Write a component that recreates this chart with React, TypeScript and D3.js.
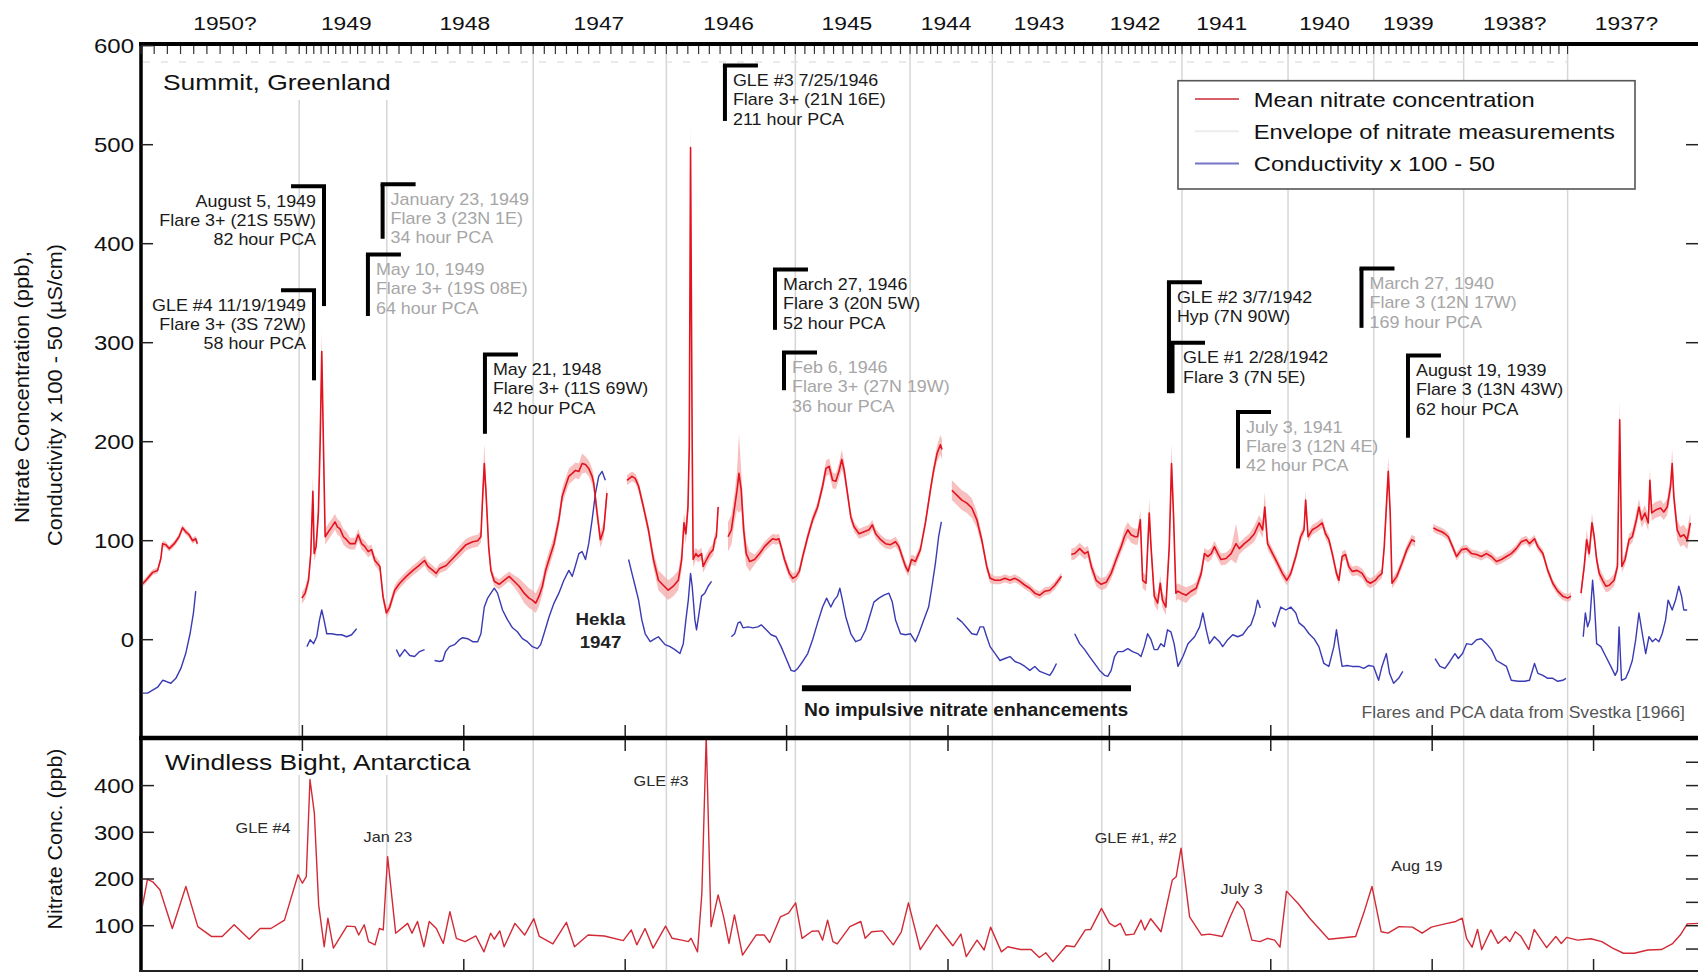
import React from "react";
import * as d3 from "d3";

const W = 1698;
const H = 972;
const FONT = "'Liberation Sans', Arial, Helvetica, sans-serif";

// Depth along the core (m) of each annual-layer boundary, from the top of the record.
const yearBoundaries = [0, 0.98, 1.523, 2.43, 3.255, 4.054, 4.765, 5.275, 5.953, 6.45, 7.107, 7.638, 8.195, 8.839];
const yearLabels = ["1950?", "1949", "1948", "1947", "1946", "1945", "1944", "1943", "1942", "1941", "1940", "1939", "1938?", "1937?"];
const yearLabelDepths = [0.52, 1.272, 2.006, 2.837, 3.641, 4.374, 4.988, 5.565, 6.16, 6.696, 7.333, 7.853, 8.511, 9.204];

// Summit nitrate: [depth m, mean ppb, half-width of measurement envelope]
const nitrate1950: [number, number, number][] = [
  [0, 55, 3], [0.031, 60, 3], [0.072, 68, 3], [0.103, 70, 3], [0.123, 82, 3], [0.134, 97, 3], [0.154, 96, 3],
  [0.175, 92, 3], [0.206, 97, 3], [0.236, 104, 3], [0.257, 113, 3], [0.277, 109, 3], [0.298, 106, 3],
  [0.319, 100, 3], [0.339, 102, 3], [0.349, 97, 3],
];
const nitrate1949: [number, number, number][] = [
  [0.997, 42, 6], [1.017, 47, 6], [1.038, 60, 6], [1.052, 87, 8], [1.065, 150, 15], [1.073, 87, 8], [1.085, 94, 8],
  [1.099, 128, 10], [1.11, 200, 15], [1.12, 291, 20], [1.13, 200, 15], [1.141, 104, 8], [1.161, 109, 8],
  [1.182, 114, 8], [1.202, 119, 8], [1.217, 114, 8], [1.233, 112, 8], [1.254, 104, 8], [1.274, 101, 8],
  [1.295, 97, 6], [1.326, 97, 6], [1.346, 106, 6], [1.367, 97, 6], [1.387, 94, 6], [1.408, 89, 6], [1.428, 91, 5],
  [1.449, 80, 5], [1.48, 74, 5], [1.5, 43, 5], [1.521, 27, 5], [1.541, 33, 5], [1.572, 50, 5], [1.603, 57, 5],
  [1.644, 64, 5], [1.685, 70, 5], [1.716, 74, 5], [1.757, 80, 5], [1.778, 74, 5], [1.808, 70, 5], [1.829, 67, 5],
  [1.85, 72, 5], [1.891, 75, 5], [1.932, 82, 5], [1.973, 89, 6], [2.014, 96, 6], [2.055, 99, 6], [2.086, 100, 6],
  [2.106, 104, 6], [2.117, 145, 12], [2.127, 178, 20], [2.137, 151, 12], [2.154, 94, 6], [2.168, 70, 5],
  [2.189, 59, 5], [2.219, 56, 5], [2.25, 60, 5], [2.281, 64, 5], [2.312, 59, 6], [2.343, 54, 8], [2.374, 47, 10],
  [2.404, 42, 10], [2.425, 40, 10], [2.446, 37, 10], [2.466, 44, 10], [2.487, 54, 8], [2.507, 70, 8],
  [2.528, 81, 8], [2.559, 97, 8], [2.589, 121, 8], [2.61, 145, 8], [2.63, 155, 8], [2.651, 165, 8],
  [2.672, 168, 8], [2.692, 171, 8], [2.713, 170, 8], [2.733, 178, 10], [2.754, 177, 8], [2.774, 173, 8],
  [2.795, 165, 8], [2.805, 158, 8], [2.826, 128, 8], [2.846, 101, 8], [2.867, 111, 8], [2.887, 148, 8],
];
const nitrate1946: [number, number, number][] = [
  [3.011, 161, 5], [3.042, 165, 5], [3.062, 163, 5], [3.083, 155, 5], [3.113, 134, 5], [3.144, 111, 6],
  [3.175, 81, 8], [3.206, 60, 10], [3.236, 55, 10], [3.267, 50, 10], [3.298, 54, 10], [3.329, 60, 10],
  [3.35, 81, 10], [3.364, 118, 10], [3.376, 107, 10], [3.389, 134, 12], [3.397, 195, 20], [3.405, 497, 25],
  [3.415, 200, 20], [3.421, 81, 8], [3.438, 87, 6], [3.452, 84, 6], [3.473, 87, 6], [3.483, 74, 6],
  [3.504, 81, 6], [3.524, 87, 6], [3.545, 91, 6], [3.555, 101, 6], [3.565, 104, 6], [3.576, 134, 6],
];
const nitrate1945: [number, number, number][] = [
  [3.637, 104, 15], [3.658, 111, 15], [3.678, 134, 15], [3.693, 151, 20], [3.705, 168, 40], [3.719, 151, 20],
  [3.734, 111, 15], [3.75, 87, 12], [3.771, 79, 10], [3.802, 81, 5], [3.833, 87, 5], [3.863, 94, 5],
  [3.894, 99, 5], [3.915, 102, 5], [3.935, 101, 5], [3.952, 102, 5], [3.966, 94, 5], [3.987, 81, 5],
  [4.017, 67, 5], [4.038, 62, 5], [4.059, 64, 5], [4.079, 69, 5], [4.1, 84, 5], [4.131, 104, 5], [4.161, 121, 5],
  [4.192, 134, 5], [4.223, 155, 6], [4.244, 173, 8], [4.264, 175, 8], [4.285, 161, 8], [4.305, 160, 8],
  [4.326, 171, 8], [4.342, 182, 10], [4.357, 171, 8], [4.377, 148, 6], [4.398, 124, 5], [4.418, 114, 5],
  [4.449, 107, 5], [4.48, 109, 5], [4.511, 111, 5], [4.531, 116, 5], [4.552, 107, 5], [4.583, 101, 5],
  [4.613, 97, 5], [4.644, 96, 5], [4.675, 99, 5], [4.696, 94, 5], [4.716, 84, 5], [4.737, 74, 5],
  [4.753, 69, 5], [4.774, 81, 5], [4.798, 79, 5], [4.829, 91, 5], [4.86, 118, 5], [4.891, 151, 6],
  [4.911, 171, 6], [4.932, 188, 8], [4.953, 197, 10], [4.963, 192, 10],
];
const nitrate1943: [number, number, number][] = [
  [5.024, 151, 10], [5.055, 146, 10], [5.086, 141, 10], [5.117, 138, 10], [5.148, 133, 10], [5.179, 121, 8],
  [5.209, 101, 6], [5.24, 74, 5], [5.261, 62, 5], [5.292, 60, 4], [5.322, 60, 4], [5.353, 62, 4],
  [5.384, 60, 4], [5.415, 62, 4], [5.446, 59, 4], [5.477, 55, 4], [5.507, 52, 4], [5.538, 47, 4],
  [5.569, 45, 4], [5.6, 49, 4], [5.631, 50, 4], [5.662, 55, 4], [5.703, 64, 4],
];
const nitrate1942: [number, number, number][] = [
  [5.764, 86, 6], [5.785, 87, 6], [5.816, 92, 6], [5.847, 87, 6], [5.867, 89, 6], [5.888, 74, 6], [5.918, 60, 6],
  [5.949, 56, 6], [5.98, 58, 6], [6.011, 67, 6], [6.042, 81, 6], [6.073, 94, 6], [6.093, 104, 8], [6.114, 111, 8],
  [6.134, 106, 8], [6.159, 104, 8], [6.175, 104, 8], [6.192, 121, 10], [6.206, 60, 8], [6.227, 57, 8],
  [6.247, 128, 15], [6.258, 94, 10], [6.278, 44, 8], [6.299, 37, 8], [6.315, 57, 8], [6.329, 40, 8],
  [6.35, 33, 8], [6.371, 94, 10], [6.385, 178, 20], [6.397, 128, 10], [6.412, 47, 8], [6.425, 49, 8],
  [6.446, 47, 8], [6.476, 45, 8], [6.507, 49, 6], [6.538, 52, 6], [6.569, 67, 6], [6.589, 87, 6], [6.61, 84, 6],
  [6.631, 87, 6], [6.651, 94, 6], [6.672, 87, 6], [6.692, 81, 6], [6.723, 82, 6], [6.754, 87, 6],
  [6.785, 97, 20], [6.805, 92, 6], [6.836, 97, 6], [6.867, 101, 6], [6.898, 107, 8], [6.928, 118, 8],
  [6.949, 111, 8], [6.963, 134, 15], [6.98, 97, 6], [7.011, 87, 5], [7.042, 77, 5], [7.072, 67, 5],
  [7.099, 60, 5], [7.124, 67, 5], [7.155, 84, 5], [7.185, 104, 5], [7.206, 111, 5], [7.216, 141, 10],
  [7.231, 104, 5], [7.257, 111, 5], [7.288, 114, 5], [7.319, 118, 5], [7.339, 107, 5], [7.36, 101, 5],
  [7.381, 87, 5], [7.407, 67, 5], [7.422, 60, 5], [7.442, 84, 5], [7.463, 86, 5], [7.483, 74, 5],
  [7.504, 69, 5], [7.535, 70, 5], [7.566, 67, 5], [7.596, 59, 5], [7.617, 57, 5], [7.648, 60, 5],
  [7.668, 64, 5], [7.689, 67, 5], [7.703, 94, 8], [7.716, 134, 12], [7.728, 170, 15], [7.74, 128, 10],
  [7.751, 57, 5], [7.781, 64, 5], [7.812, 77, 5], [7.843, 91, 5], [7.874, 101, 5], [7.894, 99, 5],
];
const nitrate1938: [number, number, number][] = [
  [8.007, 113, 4], [8.028, 111, 4], [8.059, 109, 4], [8.079, 107, 4], [8.1, 104, 4], [8.131, 92, 4],
  [8.151, 84, 4], [8.182, 91, 4], [8.213, 92, 4], [8.244, 87, 4], [8.275, 86, 4], [8.305, 84, 4],
  [8.336, 87, 4], [8.367, 84, 4], [8.398, 79, 4], [8.429, 81, 4], [8.46, 84, 4], [8.49, 87, 4], [8.521, 92, 4],
  [8.552, 99, 4], [8.583, 101, 4], [8.603, 97, 4], [8.634, 102, 4], [8.655, 94, 4], [8.686, 87, 4],
  [8.716, 70, 4], [8.747, 57, 4], [8.778, 49, 4], [8.809, 44, 4], [8.84, 42, 4], [8.86, 44, 4],
];
const nitrate1937: [number, number, number][] = [
  [8.922, 47, 6], [8.942, 74, 6], [8.957, 101, 10], [8.973, 87, 6], [8.99, 118, 10], [9.004, 104, 6],
  [9.019, 81, 6], [9.035, 67, 6], [9.056, 60, 6], [9.076, 54, 6], [9.097, 55, 6], [9.127, 60, 6],
  [9.148, 74, 6], [9.162, 222, 20], [9.175, 74, 6], [9.195, 81, 6], [9.22, 101, 6], [9.24, 104, 6],
  [9.265, 121, 8], [9.281, 134, 8], [9.298, 121, 8], [9.318, 128, 8], [9.339, 118, 8], [9.349, 161, 12],
  [9.36, 128, 8], [9.384, 131, 8], [9.415, 133, 8], [9.435, 129, 8], [9.456, 134, 8], [9.477, 155, 10],
  [9.487, 178, 15], [9.497, 145, 10], [9.518, 111, 10], [9.538, 104, 10], [9.559, 106, 10], [9.58, 101, 10],
  [9.6, 118, 10],
];

// Summit conductivity, plotted as conductivity x 100 - 50: [depth m, value]
const cond1950: [number, number][] = [
  [0, -54], [0.041, -54], [0.072, -51], [0.103, -48], [0.134, -41], [0.154, -42], [0.185, -44], [0.216, -39],
  [0.247, -29], [0.277, -14], [0.304, 6], [0.325, 27], [0.339, 49],
];
const cond1949a: [number, number][] = [
  [1.028, -7], [1.048, 0], [1.069, -4], [1.089, 3], [1.106, 20], [1.12, 30], [1.134, 20], [1.151, 6],
  [1.182, 6], [1.213, 5], [1.243, 5], [1.274, 3], [1.305, 5], [1.336, 11],
];
const cond1949b: [number, number][] = [
  [1.582, -10], [1.603, -17], [1.634, -10], [1.665, -16], [1.695, -17], [1.726, -12], [1.757, -10],
];
const cond1948: [number, number][] = [
  [1.819, -21], [1.85, -22], [1.87, -21], [1.887, -12], [1.911, -7], [1.942, -5], [1.973, 0], [1.993, 2],
  [2.024, 1], [2.055, -2], [2.086, -2], [2.106, 6], [2.127, 33], [2.148, 42], [2.168, 47], [2.189, 52],
  [2.209, 47], [2.24, 30], [2.271, 20], [2.302, 12], [2.332, 8], [2.363, 1], [2.394, -2], [2.425, -7],
  [2.456, -9], [2.476, -5], [2.497, 6], [2.528, 23], [2.559, 37], [2.589, 47], [2.62, 60], [2.651, 70],
  [2.672, 64], [2.692, 75], [2.713, 87], [2.733, 89], [2.754, 81], [2.774, 97], [2.795, 121], [2.816, 148],
  [2.836, 165], [2.857, 170], [2.877, 161],
];
const cond1946: [number, number][] = [
  [3.021, 81], [3.042, 67], [3.062, 54], [3.083, 40], [3.103, 20], [3.124, 6], [3.155, -2], [3.185, 1],
  [3.206, 3], [3.216, 1], [3.247, -5], [3.278, -7], [3.308, -10], [3.339, -14], [3.36, -4], [3.376, 20],
  [3.391, 40], [3.405, 67], [3.415, 54], [3.432, 20], [3.442, 10], [3.458, 27], [3.473, 44], [3.493, 47],
  [3.514, 54], [3.535, 59],
];
const cond1945: [number, number][] = [
  [3.658, 3], [3.678, 6], [3.699, 17], [3.713, 18], [3.73, 12], [3.761, 13], [3.791, 12], [3.822, 13],
  [3.843, 15], [3.874, 10], [3.904, 5], [3.935, 3], [3.966, -7], [3.997, -19], [4.028, -31], [4.048, -32],
  [4.069, -29], [4.1, -22], [4.131, -14], [4.161, 0], [4.192, 17], [4.223, 33], [4.248, 42], [4.274, 33],
  [4.295, 40], [4.315, 44], [4.33, 52], [4.346, 40], [4.367, 23], [4.398, 6], [4.428, -2], [4.459, 0],
  [4.49, 10], [4.521, 27], [4.541, 38], [4.572, 42], [4.603, 45], [4.634, 47], [4.655, 38], [4.675, 20],
  [4.706, 6], [4.737, 5], [4.768, 6], [4.798, -2], [4.819, 6], [4.85, 20], [4.88, 33], [4.901, 54],
  [4.922, 77], [4.942, 104], [4.959, 119],
];
const cond1943: [number, number][] = [
  [5.055, 22], [5.086, 18], [5.117, 12], [5.148, 6], [5.179, 5], [5.199, 13], [5.22, 13], [5.24, 3],
  [5.261, -7], [5.292, -14], [5.322, -21], [5.353, -19], [5.384, -17], [5.415, -22], [5.446, -24],
  [5.477, -27], [5.507, -31], [5.538, -27], [5.569, -32], [5.6, -34], [5.631, -36], [5.651, -31], [5.672, -24],
];
const cond1942: [number, number][] = [
  [5.785, 6], [5.816, -4], [5.847, -10], [5.877, -17], [5.908, -24], [5.939, -31], [5.97, -36], [5.99, -37],
  [6.011, -31], [6.032, -17], [6.052, -12], [6.083, -12], [6.114, -9], [6.144, -12], [6.175, -14],
  [6.196, -17], [6.216, -7], [6.237, 6], [6.258, 0], [6.278, -10], [6.299, -10], [6.319, -4], [6.34, -7],
  [6.36, 10], [6.381, 8], [6.401, -4], [6.425, -27], [6.456, -17], [6.487, -4], [6.528, 3], [6.559, 13],
  [6.579, 27], [6.6, 10], [6.62, -4], [6.651, 3], [6.682, -2], [6.702, -7], [6.733, 0], [6.764, 5],
  [6.795, 3], [6.826, 5], [6.857, 12], [6.877, 15], [6.902, 27], [6.918, 40], [6.935, 32],
];
const cond1940: [number, number][] = [
  [7.011, 18], [7.025, 13], [7.042, 23], [7.062, 33], [7.093, 30], [7.124, 33], [7.155, 27], [7.175, 17],
  [7.206, 13], [7.237, 6], [7.268, 1], [7.298, -7], [7.329, -24], [7.36, -27], [7.391, -7], [7.407, 10],
  [7.422, -7], [7.442, -27], [7.473, -26], [7.504, -27], [7.545, -27], [7.576, -29], [7.607, -26],
  [7.637, -27], [7.668, -41], [7.689, -27], [7.716, -14], [7.736, -34], [7.761, -44], [7.792, -39], [7.818, -32],
];
const cond1938: [number, number][] = [
  [8.018, -19], [8.048, -27], [8.079, -29], [8.11, -22], [8.141, -14], [8.162, -19], [8.188, -14],
  [8.213, -4], [8.244, -5], [8.275, 0], [8.305, 1], [8.336, -4], [8.367, -10], [8.398, -21], [8.429, -24],
  [8.46, -27], [8.49, -41], [8.532, -42], [8.573, -42], [8.603, -41], [8.634, -24], [8.655, -34],
  [8.686, -36], [8.716, -39], [8.747, -39], [8.778, -42], [8.809, -41], [8.829, -39],
];
const cond1937: [number, number][] = [
  [8.936, 3], [8.949, 27], [8.963, 13], [8.977, 20], [8.994, 60], [9.004, 40], [9.019, -4], [9.045, -7],
  [9.076, -17], [9.107, -27], [9.134, -36], [9.148, -31], [9.158, 13], [9.173, -41], [9.199, -39],
  [9.22, -31], [9.24, -21], [9.261, 0], [9.281, 27], [9.302, 6], [9.323, -14], [9.343, 3], [9.364, -2],
  [9.384, 1], [9.405, -2], [9.425, 6], [9.446, 20], [9.462, 40], [9.487, 30], [9.508, 40], [9.528, 54],
  [9.545, 44], [9.559, 30], [9.58, 30],
];

// Windless Bight nitrate (ppb) on the Summit depth scale: [depth m, ppb]
const windlessBight: [number, number][] = [
  [0.006, 137], [0.04, 199], [0.073, 194], [0.117, 177], [0.194, 94], [0.278, 184], [0.352, 98], [0.436, 77],
  [0.503, 77], [0.577, 102], [0.671, 71], [0.738, 94], [0.805, 94], [0.889, 112], [0.973, 209], [1.0, 191],
  [1.024, 205], [1.047, 413], [1.074, 341], [1.101, 144], [1.135, 55], [1.158, 116], [1.192, 52], [1.276, 99],
  [1.326, 98], [1.349, 80], [1.383, 102], [1.41, 66], [1.45, 59], [1.477, 94], [1.501, 91], [1.528, 248],
  [1.578, 84], [1.652, 105], [1.679, 84], [1.713, 109], [1.753, 55], [1.786, 109], [1.83, 94], [1.873, 62],
  [1.914, 130], [1.954, 73], [2.008, 66], [2.075, 78], [2.125, 44], [2.166, 84], [2.189, 71], [2.223, 89],
  [2.25, 55], [2.317, 105], [2.377, 80], [2.434, 115], [2.468, 77], [2.552, 61], [2.636, 107], [2.686, 55],
  [2.77, 80], [2.871, 78], [2.988, 68], [3.038, 91], [3.072, 59], [3.123, 94], [3.173, 52], [3.25, 99],
  [3.291, 73], [3.351, 69], [3.391, 66], [3.408, 73], [3.448, 44], [3.475, 169], [3.502, 505], [3.532, 98],
  [3.576, 166], [3.61, 119], [3.643, 62], [3.677, 123], [3.727, 37], [3.811, 80], [3.862, 80], [3.895, 64],
  [3.962, 119], [4.012, 127], [4.056, 149], [4.096, 73], [4.157, 88], [4.197, 89], [4.223, 69], [4.254, 112],
  [4.287, 66], [4.314, 61], [4.392, 98], [4.46, 109], [4.487, 73], [4.527, 87], [4.594, 89], [4.661, 59],
  [4.711, 87], [4.755, 149], [4.828, 49], [4.929, 102], [5.03, 57], [5.08, 82], [5.113, 34], [5.18, 69],
  [5.224, 48], [5.264, 97], [5.331, 44], [5.371, 55], [5.449, 49], [5.515, 49], [5.566, 32], [5.606, 42],
  [5.65, 23], [5.733, 57], [5.784, 55], [5.851, 91], [5.884, 92], [5.951, 137], [6.001, 105], [6.035, 98],
  [6.068, 105], [6.102, 80], [6.152, 82], [6.196, 112], [6.219, 91], [6.256, 115], [6.32, 87], [6.39, 198],
  [6.414, 205], [6.444, 266], [6.497, 119], [6.571, 80], [6.621, 82], [6.699, 77], [6.749, 119], [6.792, 152],
  [6.833, 134], [6.883, 69], [6.933, 66], [6.98, 73], [7.024, 69], [7.057, 54], [7.097, 174], [7.168, 148],
  [7.241, 116], [7.359, 71], [7.526, 77], [7.576, 127], [7.627, 184], [7.684, 87], [7.727, 84], [7.794, 98],
  [7.878, 97], [7.938, 84], [7.995, 97], [8.079, 104], [8.146, 109], [8.186, 116], [8.213, 73], [8.247, 54],
  [8.281, 92], [8.307, 49], [8.364, 91], [8.408, 62], [8.455, 77], [8.481, 66], [8.515, 87], [8.548, 78],
  [8.599, 49], [8.632, 92], [8.709, 53], [8.766, 77], [8.8, 62], [8.833, 75], [8.9, 69], [8.984, 72],
  [9.051, 66], [9.118, 52], [9.185, 41], [9.252, 41], [9.336, 48], [9.42, 49], [9.487, 61], [9.537, 80],
  [9.581, 104], [9.647, 105],
];

const nitrateSegments = [nitrate1950, nitrate1949, nitrate1946, nitrate1945, nitrate1943, nitrate1942, nitrate1938, nitrate1937];
const conductivitySegments = [cond1950, cond1949a, cond1949b, cond1948, cond1946, cond1945, cond1943, cond1942, cond1940, cond1938, cond1937];

// Solar flare / PCA events marked on the Summit record
const flareNotes = [
  { depth: 1.134, top: 458, bottom: 337, side: -1, faint: false, lines: ["August 5, 1949", "Flare 3+ (21S 55W)", "82 hour PCA"] },
  { depth: 1.072, top: 353, bottom: 262, side: -1, faint: false, lines: ["GLE #4 11/19/1949", "Flare 3+ (3S 72W)", "58 hour PCA"] },
  { depth: 1.497, top: 460, bottom: 405, side: 1, faint: true, lines: ["January 23, 1949", "Flare 3 (23N 1E)", "34 hour PCA"] },
  { depth: 1.406, top: 389, bottom: 327, side: 1, faint: true, lines: ["May 10, 1949", "Flare 3+ (19S 08E)", "64 hour PCA"] },
  { depth: 2.131, top: 288, bottom: 208, side: 1, faint: false, lines: ["May 21, 1948", "Flare 3+ (11S 69W)", "42 hour PCA"] },
  { depth: 3.618, top: 580, bottom: 524, side: 1, faint: false, lines: ["GLE #3 7/25/1946", "Flare 3+ (21N 16E)", "211 hour PCA"] },
  { depth: 3.928, top: 374, bottom: 313, side: 1, faint: false, lines: ["March 27, 1946", "Flare 3 (20N 5W)", "52 hour PCA"] },
  { depth: 3.984, top: 290, bottom: 252, side: 1, faint: true, lines: ["Feb 6, 1946", "Flare 3+ (27N 19W)", "36 hour PCA"] },
  { depth: 6.369, top: 361, bottom: 249, side: 1, faint: false, lines: ["GLE #2 3/7/1942", "Hyp (7N 90W)"] },
  { depth: 6.388, top: 300, bottom: 249, side: 1, faint: false, lines: ["GLE #1 2/28/1942", "Flare 3 (7N 5E)"] },
  { depth: 6.797, top: 230, bottom: 173, side: 1, faint: true, lines: ["July 3, 1941", "Flare 3 (12N 4E)", "42 hour PCA"] },
  { depth: 7.562, top: 375, bottom: 315, side: 1, faint: true, lines: ["March 27, 1940", "Flare 3 (12N 17W)", "169 hour PCA"] },
  { depth: 7.85, top: 287, bottom: 204, side: 1, faint: false, lines: ["August 19, 1939", "Flare 3 (13N 43W)", "62 hour PCA"] },
];

// Event names above the Windless Bight peaks: [label, depth m, ppb]
const antarcticNotes: [string, number, number][] = [
  ["GLE #4", 0.756, 311], ["Jan 23", 1.53, 291], ["GLE #3", 3.222, 411],
  ["GLE #1, #2", 6.163, 288], ["July 3", 6.819, 179], ["Aug 19", 7.905, 229],
];

const legendItems = [
  { label: "Mean nitrate concentration", color: "#d8606c" },
  { label: "Envelope of nitrate measurements", color: "#ececec" },
  { label: "Conductivity x 100 - 50", color: "#7474c8" },
];

function Txt(props: any) {
  const { x, y, size, sx = 1.15, anchor = "start", fill = "#111", weight = "normal", rotate = 0, children } = props;
  const rot = rotate ? ` rotate(${rotate})` : "";
  return (
    <text
      transform={`translate(${x},${y})${rot} scale(${sx},1)`}
      fontSize={size}
      textAnchor={anchor}
      fill={fill}
      fontWeight={weight}
      fontFamily={FONT}
    >
      {children}
    </text>
  );
}

export default function App() {
  const x = d3.scaleLinear().domain([0, 9.647]).range([141, 1698]);
  const yTop = d3.scaleLinear().domain([-100, 600]).range([738.7, 45.7]);
  const yBot = d3.scaleLinear().domain([0, 500]).range([972.4, 738.9]);

  const nitrateLine = d3.line<[number, number, number]>().x((d) => x(d[0])).y((d) => yTop(d[1]));
  const envelope = d3
    .area<[number, number, number]>()
    .x((d) => x(d[0]))
    .y0((d) => yTop(d[1] - d[2]))
    .y1((d) => yTop(d[1] + d[2]));
  const condLine = d3.line<[number, number]>().x((d) => x(d[0])).y((d) => yTop(d[1]));
  const antLine = d3.line<[number, number]>().x((d) => x(d[0])).y((d) => yBot(d[1]));

  const gridDepths = yearBoundaries.slice(1);
  const monthTicks: number[] = [];
  for (let i = 0; i < yearBoundaries.length - 1; i++) {
    const a = yearBoundaries[i];
    const b = yearBoundaries[i + 1];
    d3.range(12).forEach((k) => monthTicks.push(a + ((b - a) * k) / 12));
  }
  monthTicks.push(yearBoundaries[yearBoundaries.length - 1]);
  const meterTicks = d3.range(1, 10);

  const topPanel = { y0: 46, y1: 736 };
  const botPanel = { y0: 740, y1: 970 };
  const left = 141;
  const right = 1698;
  const dividerY = 738;

  return (
    <svg
      width={W}
      height={H}
      viewBox={`0 0 ${W} ${H}`}
      style={{ position: "absolute", left: 0, top: 0, display: "block", background: "#fff" }}
    >
      <defs>
        <clipPath id="clipTop">
          <rect x={left + 2} y={topPanel.y0} width={right - left} height={topPanel.y1 - topPanel.y0} />
        </clipPath>
        <clipPath id="clipBot">
          <rect x={left + 2} y={botPanel.y0} width={right - left} height={botPanel.y1 - botPanel.y0} />
        </clipPath>
      </defs>
      <rect x={0} y={0} width={W} height={H} fill="#fff" />

      {/* year-boundary grid lines */}
      {gridDepths.map((d, i) => (
        <g key={"g" + i}>
          <line x1={x(d)} x2={x(d)} y1={54} y2={topPanel.y1} stroke="#d6d6d6" strokeWidth={1.5} />
          <line x1={x(d)} x2={x(d)} y1={botPanel.y0} y2={botPanel.y1} stroke="#d6d6d6" strokeWidth={1.5} />
        </g>
      ))}

      {/* panel title backgrounds */}
      <rect x={150} y={48} width={255} height={52} fill="#fff" />
      <rect x={150} y={741} width={335} height={34} fill="#fff" />

      {/* faint dashed row under the top ticks */}
      <line
        x1={left + 2}
        x2={x(yearBoundaries[yearBoundaries.length - 1])}
        y1={62}
        y2={62}
        stroke="#e4e4e4"
        strokeWidth={1.3}
        strokeDasharray="7 11"
      />

      {/* Summit data */}
      <g clipPath="url(#clipTop)">
        {nitrateSegments.map((seg, i) => (
          <path key={"e" + i} d={envelope(seg) || ""} fill="#f6a9a9" fillOpacity={0.75} stroke="none" />
        ))}
        {conductivitySegments.map((seg, i) => (
          <path key={"c" + i} d={condLine(seg) || ""} fill="none" stroke="#3a3ab4" strokeWidth={1.4} strokeLinejoin="round" />
        ))}
        {nitrateSegments.map((seg, i) => (
          <path key={"n" + i} d={nitrateLine(seg) || ""} fill="none" stroke="#e2131f" strokeWidth={1.6} strokeLinejoin="round" />
        ))}
      </g>

      {/* Windless Bight data */}
      <g clipPath="url(#clipBot)">
        <path d={antLine(windlessBight) || ""} fill="none" stroke="#d22a36" strokeWidth={1.4} strokeLinejoin="round" />
      </g>

      {/* frame */}
      <line x1={left - 2} x2={right} y1={44} y2={44} stroke="#000" strokeWidth={4} />
      <line x1={left} x2={left} y1={42} y2={972} stroke="#000" strokeWidth={3.5} />
      <line x1={left - 2} x2={right} y1={dividerY} y2={dividerY} stroke="#000" strokeWidth={4.5} />
      <line x1={left - 2} x2={right} y1={971} y2={971} stroke="#222" strokeWidth={2} />

      {/* top month ticks */}
      {monthTicks.map((d, i) => (
        <line key={"m" + i} x1={x(d)} x2={x(d)} y1={46} y2={54} stroke="#333" strokeWidth={1.2} />
      ))}
      {/* year labels */}
      {yearLabels.map((lab, i) => (
        <Txt key={"y" + i} x={x(yearLabelDepths[i])} y={29.5} size={19} sx={1.2} anchor="middle">
          {lab}
        </Txt>
      ))}

      {/* depth ticks on the divider and bottom edge */}
      {meterTicks.map((d) => (
        <g key={"t" + d}>
          <line x1={x(d)} x2={x(d)} y1={725} y2={736} stroke="#222" strokeWidth={1.5} />
          <line x1={x(d)} x2={x(d)} y1={740} y2={751} stroke="#222" strokeWidth={1.5} />
          <line x1={x(d)} x2={x(d)} y1={959} y2={970} stroke="#222" strokeWidth={1.5} />
        </g>
      ))}

      {/* left axis, Summit */}
      {d3.range(0, 700, 100).map((v) => (
        <g key={"lt" + v}>
          <line x1={left} x2={left + 12} y1={yTop(v)} y2={yTop(v)} stroke="#222" strokeWidth={1.5} />
          <Txt x={134} y={yTop(v) + 7.3} size={20} sx={1.2} anchor="end">
            {v}
          </Txt>
        </g>
      ))}
      {/* right axis ticks, Summit */}
      {d3.range(0, 600, 100).map((v) => (
        <line key={"rt" + v} x1={right - 12} x2={right} y1={yTop(v)} y2={yTop(v)} stroke="#222" strokeWidth={1.5} />
      ))}
      {/* left axis, Windless Bight */}
      {[100, 200, 300, 400].map((v) => (
        <g key={"lb" + v}>
          <line x1={left} x2={left + 13} y1={yBot(v)} y2={yBot(v)} stroke="#222" strokeWidth={1.5} />
          <Txt x={134} y={yBot(v) + 7.3} size={20} sx={1.2} anchor="end">
            {v}
          </Txt>
        </g>
      ))}
      {d3.range(50, 500, 50).map((v) => (
        <line key={"rb" + v} x1={right - 12} x2={right} y1={yBot(v)} y2={yBot(v)} stroke="#222" strokeWidth={1.5} />
      ))}

      {/* axis titles */}
      <Txt x={29} y={387} size={21} sx={1.05} anchor="middle" rotate={-90}>
        Nitrate Concentration (ppb),
      </Txt>
      <Txt x={61.5} y={395} size={21} sx={1.03} anchor="middle" rotate={-90}>
        Conductivity x 100 - 50 (µS/cm)
      </Txt>
      <Txt x={61.5} y={839} size={21} sx={1.02} anchor="middle" rotate={-90}>
        Nitrate Conc. (ppb)
      </Txt>

      {/* panel titles */}
      <Txt x={163} y={89.5} size={21.5} sx={1.23}>
        Summit, Greenland
      </Txt>
      <Txt x={165} y={769.5} size={21.5} sx={1.23}>
        Windless Bight, Antarctica
      </Txt>

      {/* flare brackets and notes */}
      {flareNotes.map((n, i) => {
        const bx = x(n.depth);
        const ty = yTop(n.top);
        const by = yTop(n.bottom);
        const armEnd = bx + n.side * 33;
        const tx = bx + n.side * (n.lines[0].startsWith("GLE #1") ? 11 : 8);
        return (
          <g key={"f" + i}>
            <line x1={bx} x2={bx} y1={ty} y2={by} stroke="#000" strokeWidth={n.lines[0].startsWith("GLE #1") ? 5 : 4} />
            <line x1={bx - n.side * 2} x2={armEnd} y1={ty} y2={ty} stroke="#000" strokeWidth={4} />
            {n.lines.map((ln, j) => (
              <Txt
                key={j}
                x={tx}
                y={ty + 20.5 + j * 19.3}
                size={16}
                sx={1.12}
                anchor={n.side < 0 ? "end" : "start"}
                fill={n.faint ? "#a6a6a6" : "#1a1a1a"}
              >
                {ln}
              </Txt>
            ))}
          </g>
        );
      })}

      {/* Hekla eruption label */}
      <Txt x={x(2.847)} y={yTop(21) + 6} size={17} sx={1.1} anchor="middle" weight="bold" fill="#222">
        Hekla
      </Txt>
      <Txt x={x(2.847)} y={yTop(-2) + 6} size={17} sx={1.1} anchor="middle" weight="bold" fill="#222">
        1947
      </Txt>

      {/* interval without impulsive events */}
      <line x1={x(4.095)} x2={x(6.134)} y1={yTop(-49)} y2={yTop(-49)} stroke="#000" strokeWidth={6} />
      <Txt x={x(5.112)} y={yTop(-70) + 6.5} size={18} sx={1.07} anchor="middle" weight="bold" fill="#1a1a1a">
        No impulsive nitrate enhancements
      </Txt>
      <Txt x={x(9.566)} y={yTop(-72.7) + 6} size={16} sx={1.1} anchor="end" fill="#555">
        Flares and PCA data from Svestka [1966]
      </Txt>

      {/* legend */}
      <rect x={1178} y={80.7} width={457} height={108.3} fill="#fff" stroke="#555" strokeWidth={1.6} />
      {legendItems.map((it, i) => {
        const cy = 99 + i * 32.2;
        return (
          <g key={"lg" + i}>
            <line x1={1195} x2={1239} y1={cy} y2={cy} stroke={it.color} strokeWidth={2} />
            <Txt x={1253.8} y={cy + 7.6} size={21} sx={1.13}>
              {it.label}
            </Txt>
          </g>
        );
      })}

      {/* Windless Bight peak labels */}
      {antarcticNotes.map(([lab, d, v], i) => (
        <Txt key={"a" + i} x={x(d)} y={yBot(v) + 5.5} size={15} sx={1.08} anchor="middle" fill="#2a2a2a">
          {lab}
        </Txt>
      ))}
    </svg>
  );
}
